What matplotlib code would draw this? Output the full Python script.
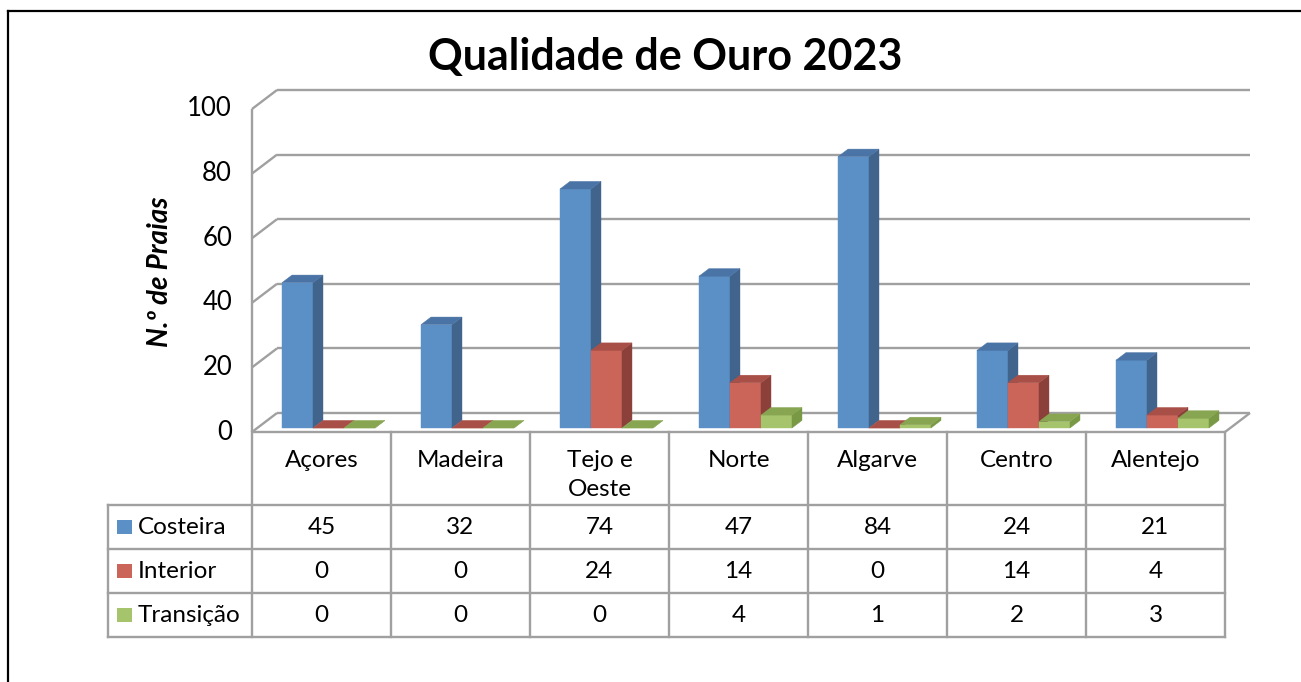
import numpy as np
import matplotlib.pyplot as plt
from matplotlib.patches import Polygon, Rectangle

# data
regioes = ['Açores', 'Madeira', 'Tejo e\nOeste', 'Norte', 'Algarve', 'Centro', 'Alentejo']
costeira = [45, 32, 74, 47, 84, 24, 21]
interior = [0, 0, 24, 14, 0, 14, 4]
transicao = [0, 0, 0, 4, 1, 2, 3]
series_names = ['Costeira', 'Interior', 'Transição']
series_vals = [costeira, interior, transicao]
y_ticks = [0, 20, 40, 60, 80, 100]

# colours: front, side, top
cores = [
    ('#5B90C6', '#41648C', '#4B74A6'),
    ('#CB655A', '#8B403A', '#A85048'),
    ('#A6C46C', '#799944', '#88A652'),
]
grid_col = '#a0a0a0'
FONT = 'Lato'
FS = 17.5

W, H = 1301, 682
fig = plt.figure(figsize=(W / 100, H / 100), dpi=100)


def fpos(x0, y0, x1, y1):
    # pixel box (top-left origin) -> figure fraction rect
    return [x0 / W, 1 - y1 / H, (x1 - x0) / W, (y1 - y0) / H]


# outer chart border (cut at right/bottom like the original)
fig.add_artist(plt.Line2D([8 / W, 8 / W], [0, 1 - 11 / H], color='black', lw=1.6, transform=fig.transFigure))
fig.add_artist(plt.Line2D([8 / W, 1], [1 - 11 / H, 1 - 11 / H], color='black', lw=1.6, transform=fig.transFigure))

# main 3d-like plot, front plane: x = category index, y = value
ax = fig.add_axes(fpos(252, 109, 1225, 432))
ax.set_xlim(0, len(regioes))
ax.set_ylim(0, 100)
ax.axis('off')

DX = 25 / 139.0     # depth offset in category units
DV = 19 / 3.23      # depth offset in value units


def P(x, v, d):
    return (x + d * DX, v + d * DV)


n = len(regioes)
lk = dict(color=grid_col, lw=1.7, solid_capstyle='butt', clip_on=False, zorder=1)
for t in y_ticks:
    a, b = P(0, t, 1), P(n, t, 1)
    ax.plot([a[0], b[0]], [a[1], b[1]], **lk)
    c = P(0, t, 0)
    ax.plot([c[0], a[0]], [c[1], a[1]], **lk)
    ax.text(-20 / 139.0, t, str(t), ha='right', va='center', fontsize=18.5, family=FONT)
ax.plot([0, 0], [0, 100], **lk)
f0, f1, f2 = P(0, 0, 0), P(n, 0, 0), P(n, 0, 1)
ax.plot([f0[0], f1[0], f2[0]], [f0[1], f1[1], f2[1]], **lk)

# bars
bw = 0.223
d0, d1 = 0.21, 0.61
for i in range(n):
    for s, vals in enumerate(series_vals):
        v = vals[i]
        x0 = i + 0.178 + s * bw
        x1 = x0 + bw
        front = [P(x0, 0, d0), P(x1, 0, d0), P(x1, v, d0), P(x0, v, d0)]
        side = [P(x1, 0, d0), P(x1, 0, d1), P(x1, v, d1), P(x1, v, d0)]
        top = [P(x0, v, d0), P(x1, v, d0), P(x1, v, d1), P(x0, v, d1)]
        fc, sc, tc = cores[s]
        for poly, col in ((front, fc), (side, sc), (top, tc)):
            ax.add_patch(Polygon(poly, closed=True, facecolor=col, edgecolor=col,
                                 lw=0.3, clip_on=False, zorder=3))

# title and axis label
fig.text(665 / W, 1 - 57 / H, 'Qualidade de Ouro 2023', ha='center', va='center',
         fontsize=31, fontweight='bold', family=FONT)
fig.text(160 / W, 1 - 272 / H, 'N.º de Praias', ha='center', va='center', rotation=90,
         fontsize=20, fontweight='bold', fontstyle='italic', family=FONT)

# data table
tab = fig.add_axes(fpos(108, 432, 1225, 637))
hdr_w = 144 / 139.0
tab.set_xlim(-hdr_w, n)
tab.set_ylim(205, 0)
tab.axis('off')
row_edges = [0, 73, 117, 161, 205]
tk = dict(color=grid_col, lw=1.7, solid_capstyle='projecting', clip_on=False)
for x in range(n + 1):
    tab.plot([x, x], [0, 205], **tk)
tab.plot([-hdr_w, -hdr_w], [73, 205], **tk)
for y in row_edges[1:]:
    tab.plot([-hdr_w, n], [y, y], **tk)

for i, r in enumerate(regioes):
    tab.text(i + 0.5, 18, r, ha='center', va='top', fontsize=FS, family=FONT, linespacing=1.5)

for s, vals in enumerate(series_vals):
    yc = (row_edges[s + 1] + row_edges[s + 2]) / 2
    tab.add_patch(Rectangle((-hdr_w + 9 / 139.0, yc - 7), 15 / 139.0, 14,
                            facecolor=cores[s][0], edgecolor='none', clip_on=False))
    tab.text(-hdr_w + 30 / 139.0, yc, series_names[s], ha='left', va='center',
             fontsize=FS, family=FONT)
    for i, v in enumerate(vals):
        tab.text(i + 0.5, yc, str(v), ha='center', va='center', fontsize=FS, family=FONT)

fig.savefig('out.png', dpi=100)
